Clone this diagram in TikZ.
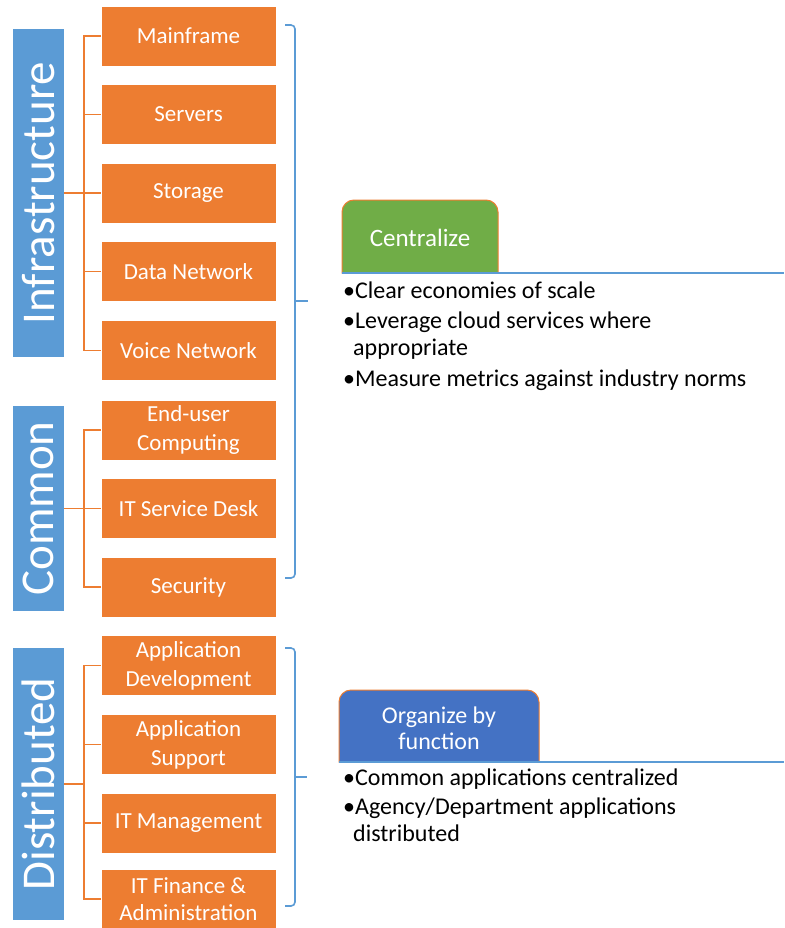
\documentclass[tikz,border=0pt]{standalone}
\usepackage{fontspec}
\setmainfont{Carlito}
\definecolor{boxorange}{HTML}{ED7D31}
\definecolor{labblue}{HTML}{5B9BD5}
\definecolor{tabgreen}{HTML}{70AD47}
\definecolor{tabblue}{HTML}{4472C4}
\begin{document}
\begin{tikzpicture}[x=1pt,y=-1pt,
  itembox/.style={fill=boxorange,draw=white,line width=0.6pt,minimum width=175pt,minimum height=60pt,
    text=white,font=\fontsize{23}{29}\selectfont,align=center,inner sep=0pt},
  grouplab/.style={fill=labblue,rotate=90,minimum height=51pt,text=white,inner sep=0pt,
    font=\fontsize{47}{50}\selectfont},
  oline/.style={draw=boxorange,line width=1.6pt},
  brace/.style={draw=labblue,line width=1.6pt,rounded corners=4pt},
  tabline/.style={draw=labblue,line width=1.4pt},
  bullettext/.style={anchor=base west,inner sep=0pt,font=\fontsize{24}{28}\selectfont,text=black},
  tabtext/.style={text=white,align=center,inner sep=0pt}]
\useasboundingbox (0,0) rectangle (784,928);
\fill[white] (0,0) rectangle (784,928);
% orange items
\node[itembox] (mainframe) at (188.5,36) {Mainframe};
\node[itembox] (servers) at (188.5,114.5) {Servers};
\node[itembox] (storage) at (188.5,193) {Storage};
\node[itembox] (datanet) at (188.5,271.5) {Data Network};
\node[itembox] (voicenet) at (188.5,350.5) {Voice Network};
\node[itembox] (enduser) at (188.5,430) {End-user\\Computing};
\node[itembox] (servicedesk) at (188.5,508.5) {IT Service Desk};
\node[itembox] (security) at (188.5,587) {Security};
\node[itembox] (appdev) at (188.5,665.5) {Application\\Development};
\node[itembox] (appsup) at (188.5,744.5) {Application\\Support};
\node[itembox] (itmgmt) at (188.5,823) {IT Management};
\node[itembox,font=\fontsize{23}{27}\selectfont] (itfin) at (188.5,899) {IT Finance \&\\Administration};
% group labels
\node[grouplab,minimum width=328pt] (infra) at (38.5,193) {Infrastructure};
\node[grouplab,minimum width=205pt] (common) at (38.5,508.5) {Common};
\node[grouplab,minimum width=272pt] (dist) at (38.5,784) {Distributed};
% orange connectors
\draw[oline] (mainframe.west) -- ++(-17,0) |- (voicenet.west);
\foreach \n in {servers,datanet} \draw[oline] (\n.west) -- ++(-17,0);
\draw[oline] (infra.south) -- (storage.west);
\draw[oline] (enduser.west) -- ++(-17,0) |- (security.west);
\draw[oline] (common.south) -- (servicedesk.west);
\draw[oline] (appdev.west) -- ++(-17,0) |- (itfin.west);
\foreach \n in {appsup,itmgmt} \draw[oline] (\n.west) -- ++(-17,0);
\coordinate (dspine) at (84,784);
\draw[oline] (dist.south) -- (dspine);
% braces
\coordinate (b1top) at (285,25);
\coordinate (b1bot) at (285,578);
\coordinate (b1tip) at (308,301);
\draw[brace] (b1top) -- (295,25) -- (295,578) -- (b1bot);
\draw[tabline] (295,301) -- (b1tip);
\coordinate (b2top) at (285,648);
\coordinate (b2bot) at (285,906);
\coordinate (b2tip) at (307,777);
\draw[brace] (b2top) -- (295,648) -- (295,906) -- (b2bot);
\draw[tabline] (295,777) -- (b2tip);
% Centralize tab
\draw[fill=tabgreen,draw=boxorange,line width=1pt] (342,273) -- (342,212) arc[start angle=180,end angle=270,radius=12]
  -- (486,200) arc[start angle=270,end angle=360,radius=12] -- (498,273) -- cycle;
\draw[tabline] (342,273) -- (784,273);
\node[tabtext,font=\fontsize{25}{28}\selectfont] (centralize) at (420,238) {Centralize};
\node[bullettext] (c1) at (343,298) {•Clear economies of scale};
\node[bullettext] (c2) at (343,328) {•Leverage cloud services where};
\node[bullettext] (c3) at (343,355) {\hspace{10pt}appropriate};
\node[bullettext] (c4) at (343,386) {•Measure metrics against industry norms};
% Organize tab
\draw[fill=tabblue,draw=boxorange,line width=1pt] (339,762) -- (339,702) arc[start angle=180,end angle=270,radius=12]
  -- (527,690) arc[start angle=270,end angle=360,radius=12] -- (539,762) -- cycle;
\draw[tabline] (339,762) -- (784,762);
\node[tabtext,font=\fontsize{24}{26}\selectfont] (organize) at (439,728) {Organize by\\function};
\node[bullettext] (o1) at (343,785) {•Common applications centralized};
\node[bullettext] (o2) at (343,814) {•Agency/Department applications};
\node[bullettext] (o3) at (343,841) {\hspace{10pt}distributed};
\end{tikzpicture}
\end{document}
